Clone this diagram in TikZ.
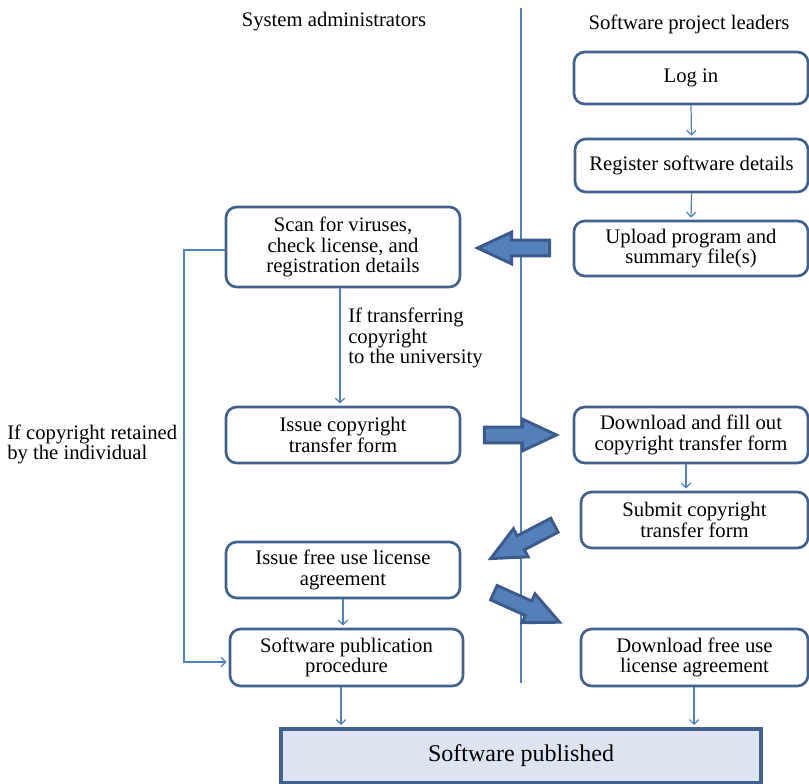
\documentclass[tikz,border=0pt]{standalone}
\usepackage{fontspec}
\setmainfont{Liberation Serif}
\usetikzlibrary{arrows.meta,shapes.arrows}
\definecolor{boxline}{RGB}{65,98,143}
\definecolor{flowline}{RGB}{79,129,189}
\definecolor{pubfill}{RGB}{220,228,242}
\definecolor{blockfill}{RGB}{84,128,186}
\definecolor{blockline}{RGB}{60,90,140}
\begin{document}
\begin{tikzpicture}[x=0.75pt,y=-0.75pt,
  stepbox/.style={draw=boxline,line width=2pt,rounded corners=8pt,fill=white,
    align=center,inner sep=0pt,font=\fontsize{15.5}{15.5}\selectfont},
  pubbox/.style={draw=boxline,line width=3pt,fill=pubfill,
    inner sep=0pt,font=\fontsize{18}{20}\selectfont},
  lbl/.style={align=left,inner sep=0pt,font=\fontsize{15.5}{15.5}\selectfont},
  head/.style={inner sep=0pt,font=\fontsize{15.5}{15.5}\selectfont},
  flow/.style={draw=flowline,line width=0.9pt,
    -{Straight Barb[length=3.5pt,width=7pt,line width=0.9pt]},shorten >=1.5pt},
  bigarrow/.style={single arrow,draw=blockline,fill=blockfill,line width=2.2pt,
    inner sep=4.8pt,single arrow head extend=6pt,single arrow tip angle=50,
    minimum height=54pt,anchor=center}
]
\path[use as bounding box] (0,0) rectangle (809,784);

% swim-lane divider
\draw[flowline,line width=2.2pt] (521,8) -- (521,683);

% lane headings
\node[head] (hsys) at (334,22) {System administrators};
\node[head] (hlead) at (689,24) {Software project leaders};

% project leader steps
\node[stepbox,minimum width=175.5pt,minimum height=39pt] (login) at (691,78) {Log in};
\node[stepbox,minimum width=174.75pt,minimum height=39.75pt] (reg) at (691.5,165.5) {Register software details};
\node[stepbox,minimum width=175.5pt,minimum height=41.25pt] (upload) at (691,248.5) {Upload program and\\summary file(s)};
\node[stepbox,minimum width=175.5pt,minimum height=42pt] (dl) at (691,435) {Download and fill out\\copyright transfer form};
\node[stepbox,minimum width=170.25pt,minimum height=42pt] (submit) at (694.5,520) {Submit copyright\\transfer form};
\node[stepbox,minimum width=170.25pt,minimum height=42.75pt] (dlfree) at (694.5,657.5) {Download free use\\license agreement};

% administrator steps
\node[stepbox,minimum width=175.5pt,minimum height=60pt] (scan) at (343,247) {Scan for viruses,\\check license, and\\registration details};
\node[stepbox,minimum width=175.5pt,minimum height=42pt] (issue) at (343,435) {Issue copyright\\transfer form};
\node[stepbox,minimum width=175.5pt,minimum height=42pt] (free) at (343,570) {Issue free use license\\agreement};
\node[stepbox,minimum width=174.75pt,minimum height=42.75pt] (proc) at (346.5,657.5) {Software publication\\procedure};

% final result
\node[pubbox,minimum width=360pt,minimum height=40.5pt] (pub) at (521,756) {Software published};

% thin flow connectors
\draw[flow] (login.south) -- (reg.north);
\draw[flow] (reg.south) -- (upload.north);
\draw[flow] (scan.south -| 340,0) -- (issue.north -| 340,0);
\draw[flow] (dl.south -| 686,0) -- (submit.north -| 686,0);
\draw[flow] (free.south) -- (proc.north -| free.south);
\draw[flow] (proc.south -| 341,0) -- (pub.north -| 341,0);
\draw[flow] (dlfree.south -| 694,0) -- (pub.north -| 694,0);

% retained-copyright bypass
\coordinate (byA) at (184,250);
\coordinate (byB) at (184,662);
\draw[flow] (scan.west |- byA) -- (byA) -- (byB) -- (proc.west |- byB);

% connector labels
\node[lbl,anchor=west] (ltrans) at (348,338) {If transferring\\copyright\\to the university};
\node[lbl,anchor=west] (lkeep) at (7,444.5) {If copyright retained\\by the individual};

% block arrows crossing the lanes
\node[bigarrow,rotate=180] (ba1) at (522,248) {};
\node[bigarrow] (ba2) at (512,435) {};
\node[bigarrow,rotate=207.6] (ba3) at (530,538) {};
\node[bigarrow,rotate=-24.2] (ba4) at (519,604) {};
\end{tikzpicture}
\end{document}
